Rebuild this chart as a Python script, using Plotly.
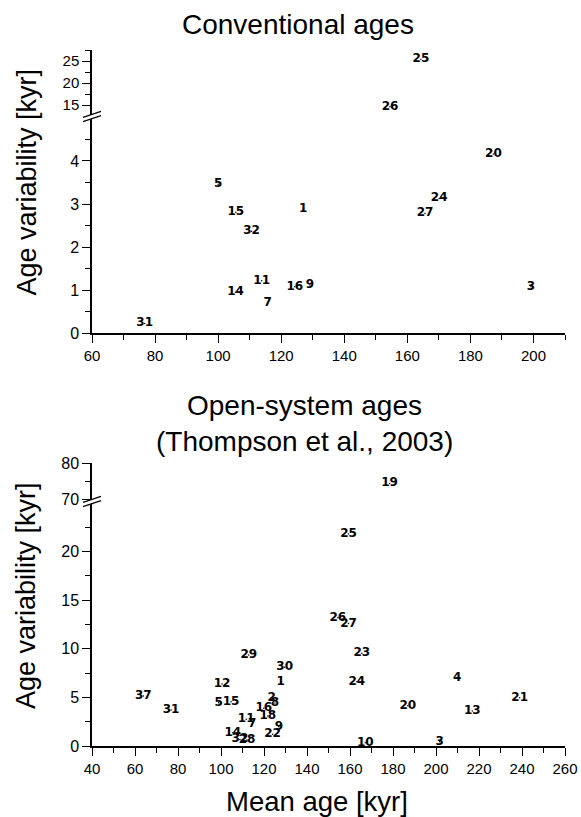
import plotly.graph_objects as go

# ---------------- data ----------------
conv_labels = ["31", "5", "15", "32", "11", "14", "7", "16", "9", "1",
               "25", "26", "20", "24", "27", "3"]
conv_x = [76.7, 100.0, 105.6, 110.6, 113.8, 105.5, 115.7, 124.3, 129.1, 127.0,
          164.3, 154.5, 187.3, 170.1, 165.6, 199.2]
conv_y = [0.23, 3.46, 2.81, 2.37, 1.22, 0.95, 0.70, 1.08, 1.12, 2.88,
          25.4, 14.6, 4.16, 3.13, 2.78, 1.08]

open_labels = ["37", "31", "12", "5", "15", "29", "30", "1", "2", "8", "16", "18",
               "11", "7", "9", "22", "14", "32", "28", "19", "25", "26", "27", "23",
               "24", "4", "21", "20", "13", "10", "3"]
open_x = [63.9, 76.8, 100.5, 98.9, 104.7, 112.9, 129.6, 127.7, 123.6, 125.1, 119.9, 121.8,
          111.7, 114.5, 126.9, 124.0, 105.5, 108.8, 112.1, 178.4, 159.3, 154.3, 159.3, 165.5,
          163.2, 209.8, 238.9, 186.9, 216.9, 167.1, 201.7]
open_y = [5.14, 3.70, 6.38, 4.45, 4.56, 9.36, 8.1, 6.55, 4.97, 4.42, 3.88, 3.09,
          2.74, 2.26, 1.99, 1.20, 1.37, 0.67, 0.62, 74.4, 21.8, 13.2, 12.6, 9.53,
          6.62, 7.03, 4.97, 4.15, 3.60, 0.34, 0.44]

conv_break = 5.0
open_break = 25.0

# ---------------- geometry ----------------
W, H = 581, 817
ML, MR, MT, MB = 92, 16, 40, 71
PW = W - ML - MR
PH = H - MT - MB


def px(x):  # page pixel -> paper
    return (x - ML) / PW


def py(y):  # page pixel -> paper
    return (H - MB - y) / PH


FONT = "Liberation Sans, Arial, sans-serif"
LBL_FONT = dict(family="DejaVu Sans", size=12, color="black", weight="bold")

fig = go.Figure()


def add_points(xs, ys, labels, xa, ya_low, ya_high, brk):
    lo = [(x, y, t) for x, y, t in zip(xs, ys, labels) if y <= brk]
    hi = [(x, y, t) for x, y, t in zip(xs, ys, labels) if y > brk]
    for pts, ya in ((lo, ya_low), (hi, ya_high)):
        if not pts:
            continue
        fig.add_trace(go.Scatter(
            x=[p[0] for p in pts], y=[p[1] for p in pts], text=[p[2] for p in pts],
            mode="markers+text", textposition="middle center",
            marker=dict(size=1.5, color="black"),
            textfont=LBL_FONT, xaxis=xa, yaxis=ya, cliponaxis=False,
            showlegend=False, hoverinfo="skip"))


add_points(conv_x, conv_y, conv_labels, "x", "y", "y2", conv_break)
add_points(open_x, open_y, open_labels, "x2", "y3", "y4", open_break)

axis_common = dict(
    showline=True, linecolor="black", linewidth=1.5,
    ticks="outside", ticklen=8, tickwidth=1.3, tickcolor="black",
    showgrid=False, zeroline=False, automargin=False,
    tickfont=dict(family=FONT, size=16, color="black"),
)


def minor(d):
    return dict(ticks="outside", ticklen=5, tickwidth=1.3, tickcolor="black", dtick=d, showgrid=False)


fig.update_layout(
    width=W, height=H, autosize=False,
    margin=dict(l=ML, r=MR, t=MT, b=MB, pad=0, autoexpand=False),
    paper_bgcolor="white", plot_bgcolor="white",
    showlegend=False,
    xaxis=dict(axis_common, domain=[0, 1], range=[60, 210], anchor="y",
               tickmode="linear", tick0=60, dtick=20, minor=minor(10),
               tickfont=dict(family=FONT, size=15, color="black")),
    yaxis=dict(axis_common, domain=[py(333.3), py(117.8)], range=[0, 5], anchor="x",
               tickvals=[0, 1, 2, 3, 4], minor=minor(0.5)),
    yaxis2=dict(axis_common, domain=[py(116), py(50)], range=[12.5, 27.5], anchor="x",
                tickvals=[15, 20, 25], minor=minor(2.5),
                tickfont=dict(family=FONT, size=15, color="black")),
    xaxis2=dict(axis_common, domain=[0, 1], range=[40, 260], anchor="y3",
                tickmode="linear", tick0=40, dtick=20, minor=minor(10),
                tickfont=dict(family=FONT, size=15, color="black")),
    yaxis3=dict(axis_common, domain=[py(746), py(503)], range=[0, 25], anchor="x2",
                tickvals=[0, 5, 10, 15, 20], minor=minor(2.5)),
    yaxis4=dict(axis_common, domain=[py(501.8), py(463.3)], range=[69.3, 80], anchor="x2",
                tickvals=[70, 80], minor=minor(5)),
)

# ---------------- break marks ----------------
shapes = []
for yc in (116.5, 501.5):
    x0, x1 = 83, 101
    d = 3.0
    g = 2.2
    path = "M {a},{b} L {c},{d2} L {e},{f} L {g2},{h} Z".format(
        a=px(x0), b=py(yc + d + g), c=px(x1), d2=py(yc - d + g),
        e=px(x1), f=py(yc - d - g), g2=px(x0), h=py(yc + d - g))
    shapes.append(dict(type="path", path=path, xref="paper", yref="paper",
                       fillcolor="white", line=dict(width=0), layer="above"))
    for s in (g, -g):
        shapes.append(dict(type="line", xref="paper", yref="paper",
                           x0=px(x0), y0=py(yc + d + s), x1=px(x1), y1=py(yc - d + s),
                           line=dict(color="black", width=1.3), layer="above"))
fig.update_layout(shapes=shapes)

# ---------------- titles ----------------
ann = []
TF = dict(family=FONT, size=28, color="black")
ann.append(dict(text="Conventional ages", x=px(298), y=py(25), xref="paper", yref="paper",
                showarrow=False, font=TF, xanchor="center", yanchor="middle"))
ann.append(dict(text="Open-system ages", x=px(304), y=py(405), xref="paper", yref="paper",
                showarrow=False, font=TF, xanchor="center", yanchor="middle"))
ann.append(dict(text="(Thompson et al., 2003)", x=px(304), y=py(441), xref="paper", yref="paper",
                showarrow=False, font=TF, xanchor="center", yanchor="middle"))
ann.append(dict(text="Mean age [kyr]", x=px(317), y=py(801), xref="paper", yref="paper",
                showarrow=False, font=dict(family=FONT, size=27.5, color="black"),
                xanchor="center", yanchor="middle"))
for yc in (182.5, 596):
    ann.append(dict(text="Age variability [kyr]", x=px(26), y=py(yc), xref="paper", yref="paper",
                    showarrow=False, font=dict(family=FONT, size=27, color="black"),
                    textangle=-90, xanchor="center", yanchor="middle"))
fig.update_layout(annotations=ann)

fig.write_html("out.html",
               config={"displayModeBar": False},
               post_script="document.body.style.margin='0';document.body.style.overflow='hidden';")
